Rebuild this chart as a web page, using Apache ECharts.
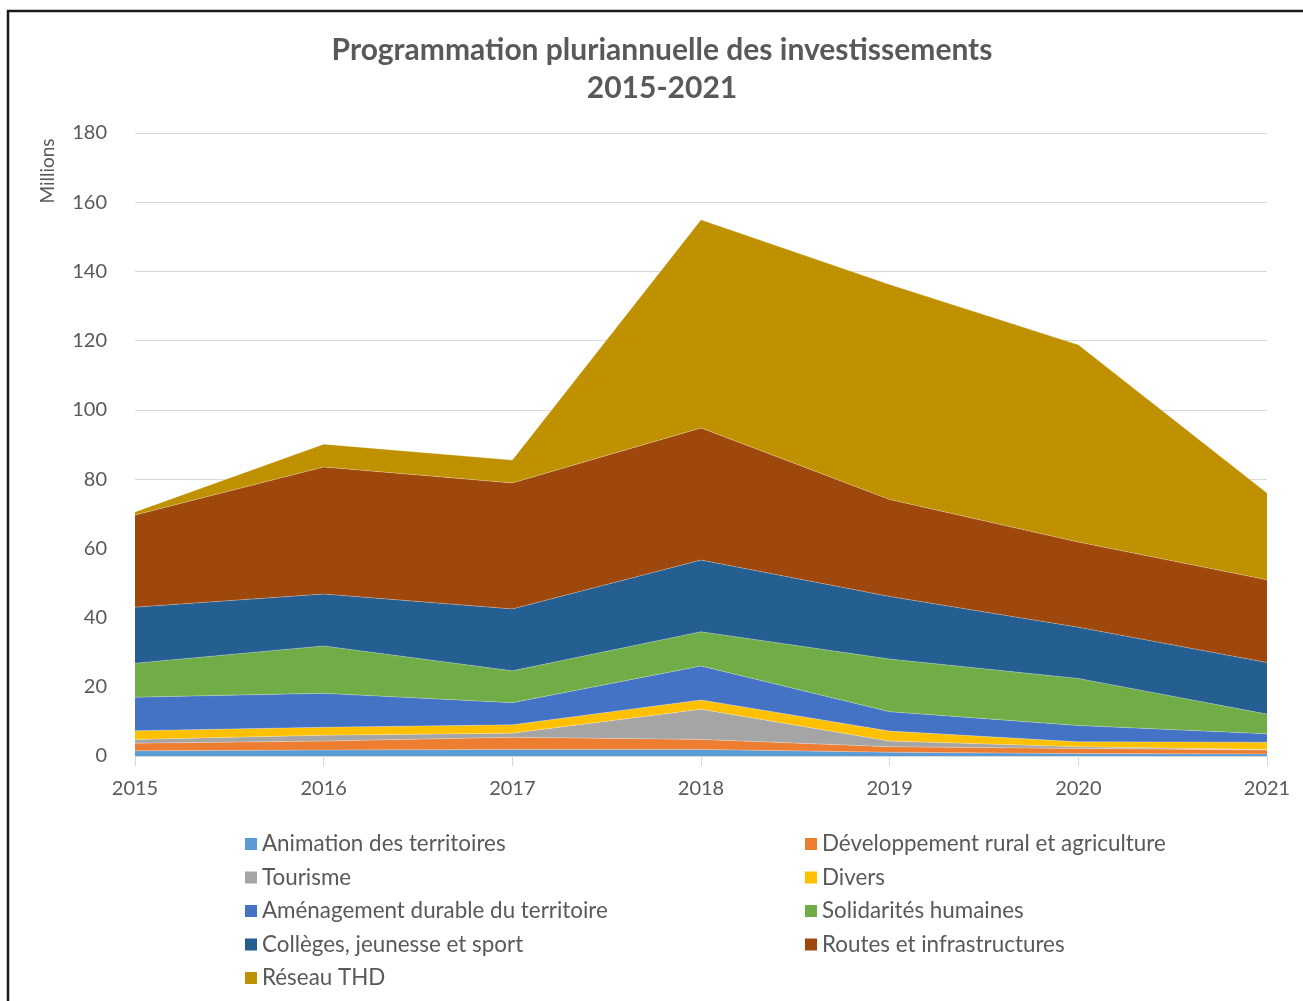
<!DOCTYPE html>
<html>
<head>
<meta charset="utf-8">
<script src="https://cdn.jsdelivr.net/npm/echarts@6/dist/echarts.min.js"></script>
<style>
  html, body { margin: 0; padding: 0; background: #fff; }
  #chart { width: 1303px; height: 1001px; }
</style>
</head>
<body>
<div id="chart"></div>
<script>
const years = ['2015', '2016', '2017', '2018', '2019', '2020', '2021']

// valeurs en millions
const animation = [1.5, 1.7, 1.9, 1.9, 1.1, 0.7, 0.6]
const developpement = [2.2, 2.6, 3.5, 2.9, 1.6, 1.5, 1.1]
const tourisme = [1.1, 1.7, 1.2, 8.7, 1.6, 0.5, 0.2]
const divers = [2.5, 2.3, 2.4, 2.7, 2.9, 1.4, 2.1]
const amenagement = [9.7, 9.8, 6.4, 9.8, 5.6, 4.7, 2.4]
const solidarites = [9.8, 13.7, 9.2, 9.9, 15.2, 13.6, 5.7]
const colleges = [16.2, 15.0, 17.9, 20.7, 18.1, 14.8, 14.9]
const routes = [26.6, 36.7, 36.4, 38.2, 28.0, 24.6, 23.9]
const reseauThd = [0.9, 6.6, 6.6, 60.1, 62.1, 57.0, 25.1]

const seriesDefs = [
  { name: 'Animation des territoires', data: animation, color: '#5B9BD5' },
  { name: 'Développement rural et agriculture', data: developpement, color: '#ED7D31' },
  { name: 'Tourisme', data: tourisme, color: '#A5A5A5' },
  { name: 'Divers', data: divers, color: '#FFC000' },
  { name: 'Aménagement durable du territoire', data: amenagement, color: '#4472C4' },
  { name: 'Solidarités humaines', data: solidarites, color: '#70AD47' },
  { name: 'Collèges, jeunesse et sport', data: colleges, color: '#255E91' },
  { name: 'Routes et infrastructures', data: routes, color: '#9E480E' },
  { name: 'Réseau THD', data: reseauThd, color: '#BF9000' }
]

const chart = echarts.init(document.getElementById('chart'))

const legendText = { fontFamily: 'Lato', fontSize: 22.4, color: '#595959' }

const option = {
  animation: false,
  color: seriesDefs.map(s => s.color),
  title: {
    text: 'Programmation pluriannuelle des investissements\n2015-2021',
    left: 657,
    textAlign: 'center',
    top: 26,
    textStyle: {
      fontFamily: 'Lato',
      fontWeight: 'bold',
      fontSize: 30,
      lineHeight: 38,
      color: '#595959'
    }
  },
  grid: { left: 135, right: 36, top: 133, bottom: 245 },
  legend: [
    {
      orient: 'vertical',
      left: 240,
      top: 828,
      itemWidth: 12,
      itemHeight: 12,
      itemGap: 11.5,
      icon: 'rect',
      textStyle: legendText,
      data: [seriesDefs[0].name, seriesDefs[2].name, seriesDefs[4].name, seriesDefs[6].name, seriesDefs[8].name]
    },
    {
      orient: 'vertical',
      left: 800,
      top: 828,
      itemWidth: 12,
      itemHeight: 12,
      itemGap: 11.5,
      icon: 'rect',
      textStyle: legendText,
      data: [seriesDefs[1].name, seriesDefs[3].name, seriesDefs[5].name, seriesDefs[7].name]
    }
  ],
  xAxis: {
    type: 'category',
    data: years,
    boundaryGap: false,
    axisLine: { lineStyle: { color: '#D9D9D9' } },
    axisTick: { show: true, length: 10, lineStyle: { color: '#D9D9D9' } },
    axisLabel: { fontFamily: 'Lato', fontSize: 20, color: '#595959', margin: 23 }
  },
  yAxis: {
    type: 'value',
    min: 0,
    max: 180,
    interval: 20,
    axisLine: { show: false },
    axisTick: { show: false },
    splitLine: { lineStyle: { color: '#D9D9D9' } },
    axisLabel: { fontFamily: 'Lato', fontSize: 20, color: '#595959', margin: 28 }
  },
  graphic: [
    {
      type: 'text',
      x: 48,
      y: 171,
      rotation: Math.PI / 2,
      style: {
        text: 'Millions',
        fontFamily: 'Lato',
        fontSize: 19,
        fill: '#595959',
        align: 'center',
        verticalAlign: 'middle'
      }
    },
    {
      type: 'polyline',
      shape: { points: [[8, 1001], [8, 11], [1303, 11]] },
      style: { stroke: '#1a1a1a', lineWidth: 2.5, fill: null }
    }
  ],
  series: seriesDefs.map(s => ({
    name: s.name,
    type: 'line',
    stack: 'total',
    data: s.data,
    showSymbol: false,
    symbol: 'none',
    lineStyle: { width: 0.6, color: 'rgba(255,255,255,0.45)' },
    itemStyle: { color: s.color },
    areaStyle: { color: s.color, opacity: 1 }
  }))
}

chart.setOption(option)
</script>
</body>
</html>
